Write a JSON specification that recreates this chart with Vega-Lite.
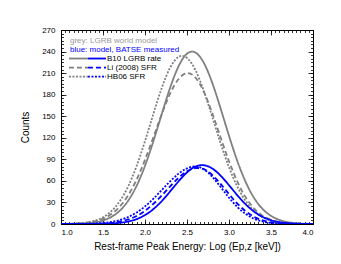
{
"$schema": "https://vega.github.io/schema/vega-lite/v6.json",
"width": 252, "height": 194,
"autosize": "none",
"padding": {"left": 61, "top": 30, "right": 28, "bottom": 40},
"config": {
 "view": {"stroke": "black", "strokeWidth": 1},
 "font": "Liberation Sans",
 "axis": {"domain": false, "grid": false, "labelFont": "Liberation Sans", "labelFontSize": 8, "labelColor": "black", "tickColor": "black", "tickWidth": 0.8, "titleFont": "Liberation Sans", "titleFontWeight": "normal", "titleFontSize": 10, "titleColor": "black"}
},
"datasets": {
 "curves": [
{"logE":1.0,"counts":0.05,"model":"B10","sample":"world"},{"logE":1.1,"counts":0.15,"model":"B10","sample":"world"},{"logE":1.2,"counts":0.4,"model":"B10","sample":"world"},{"logE":1.3,"counts":0.98,"model":"B10","sample":"world"},{"logE":1.4,"counts":2.28,"model":"B10","sample":"world"},{"logE":1.5,"counts":4.9,"model":"B10","sample":"world"},{"logE":1.6,"counts":9.9,"model":"B10","sample":"world"},{"logE":1.7,"counts":18.5,"model":"B10","sample":"world"},{"logE":1.8,"counts":32.5,"model":"B10","sample":"world"},{"logE":1.9,"counts":53.1,"model":"B10","sample":"world"},{"logE":2.0,"counts":81.0,"model":"B10","sample":"world"},{"logE":2.1,"counts":115.3,"model":"B10","sample":"world"},{"logE":2.2,"counts":153.2,"model":"B10","sample":"world"},{"logE":2.3,"counts":189.9,"model":"B10","sample":"world"},{"logE":2.4,"counts":219.6,"model":"B10","sample":"world"},{"logE":2.5,"counts":237.0,"model":"B10","sample":"world"},{"logE":2.6,"counts":238.7,"model":"B10","sample":"world"},{"logE":2.7,"counts":224.3,"model":"B10","sample":"world"},{"logE":2.8,"counts":196.6,"model":"B10","sample":"world"},{"logE":2.9,"counts":160.8,"model":"B10","sample":"world"},{"logE":3.0,"counts":122.8,"model":"B10","sample":"world"},{"logE":3.1,"counts":87.4,"model":"B10","sample":"world"},{"logE":3.2,"counts":58.1,"model":"B10","sample":"world"},{"logE":3.3,"counts":36.0,"model":"B10","sample":"world"},{"logE":3.4,"counts":20.9,"model":"B10","sample":"world"},{"logE":3.5,"counts":11.3,"model":"B10","sample":"world"},{"logE":3.6,"counts":5.7,"model":"B10","sample":"world"},{"logE":3.7,"counts":2.67,"model":"B10","sample":"world"},{"logE":3.8,"counts":1.17,"model":"B10","sample":"world"},{"logE":3.9,"counts":0.48,"model":"B10","sample":"world"},{"logE":4.0,"counts":0.18,"model":"B10","sample":"world"},
{"logE":1.0,"counts":0.12,"model":"Li","sample":"world"},{"logE":1.1,"counts":0.3,"model":"Li","sample":"world"},{"logE":1.2,"counts":0.75,"model":"Li","sample":"world"},{"logE":1.3,"counts":1.7,"model":"Li","sample":"world"},{"logE":1.4,"counts":3.7,"model":"Li","sample":"world"},{"logE":1.5,"counts":7.4,"model":"Li","sample":"world"},{"logE":1.6,"counts":13.8,"model":"Li","sample":"world"},{"logE":1.7,"counts":24.3,"model":"Li","sample":"world"},{"logE":1.8,"counts":40.1,"model":"Li","sample":"world"},{"logE":1.9,"counts":61.8,"model":"Li","sample":"world"},{"logE":2.0,"counts":89.3,"model":"Li","sample":"world"},{"logE":2.1,"counts":120.9,"model":"Li","sample":"world"},{"logE":2.2,"counts":153.1,"model":"Li","sample":"world"},{"logE":2.3,"counts":181.7,"model":"Li","sample":"world"},{"logE":2.4,"counts":201.8,"model":"Li","sample":"world"},{"logE":2.5,"counts":209.9,"model":"Li","sample":"world"},{"logE":2.6,"counts":203.9,"model":"Li","sample":"world"},{"logE":2.7,"counts":184.1,"model":"Li","sample":"world"},{"logE":2.8,"counts":154.5,"model":"Li","sample":"world"},{"logE":2.9,"counts":120.5,"model":"Li","sample":"world"},{"logE":3.0,"counts":87.4,"model":"Li","sample":"world"},{"logE":3.1,"counts":58.9,"model":"Li","sample":"world"},{"logE":3.2,"counts":36.9,"model":"Li","sample":"world"},{"logE":3.3,"counts":21.5,"model":"Li","sample":"world"},{"logE":3.4,"counts":11.6,"model":"Li","sample":"world"},{"logE":3.5,"counts":5.9,"model":"Li","sample":"world"},{"logE":3.6,"counts":2.7,"model":"Li","sample":"world"},{"logE":3.7,"counts":1.19,"model":"Li","sample":"world"},{"logE":3.8,"counts":0.48,"model":"Li","sample":"world"},{"logE":3.9,"counts":0.18,"model":"Li","sample":"world"},{"logE":4.0,"counts":0.06,"model":"Li","sample":"world"},
{"logE":1.0,"counts":0.12,"model":"HB06","sample":"world"},{"logE":1.1,"counts":0.33,"model":"HB06","sample":"world"},{"logE":1.2,"counts":0.85,"model":"HB06","sample":"world"},{"logE":1.3,"counts":2.0,"model":"HB06","sample":"world"},{"logE":1.4,"counts":4.5,"model":"HB06","sample":"world"},{"logE":1.5,"counts":9.3,"model":"HB06","sample":"world"},{"logE":1.6,"counts":17.8,"model":"HB06","sample":"world"},{"logE":1.7,"counts":31.7,"model":"HB06","sample":"world"},{"logE":1.8,"counts":52.4,"model":"HB06","sample":"world"},{"logE":1.9,"counts":80.7,"model":"HB06","sample":"world"},{"logE":2.0,"counts":115.4,"model":"HB06","sample":"world"},{"logE":2.1,"counts":153.4,"model":"HB06","sample":"world"},{"logE":2.2,"counts":189.6,"model":"HB06","sample":"world"},{"logE":2.3,"counts":217.8,"model":"HB06","sample":"world"},{"logE":2.4,"counts":232.6,"model":"HB06","sample":"world"},{"logE":2.5,"counts":231.1,"model":"HB06","sample":"world"},{"logE":2.6,"counts":214.2,"model":"HB06","sample":"world"},{"logE":2.7,"counts":185.2,"model":"HB06","sample":"world"},{"logE":2.8,"counts":149.4,"model":"HB06","sample":"world"},{"logE":2.9,"counts":112.5,"model":"HB06","sample":"world"},{"logE":3.0,"counts":79.0,"model":"HB06","sample":"world"},{"logE":3.1,"counts":51.8,"model":"HB06","sample":"world"},{"logE":3.2,"counts":31.7,"model":"HB06","sample":"world"},{"logE":3.3,"counts":18.1,"model":"HB06","sample":"world"},{"logE":3.4,"counts":9.6,"model":"HB06","sample":"world"},{"logE":3.5,"counts":4.8,"model":"HB06","sample":"world"},{"logE":3.6,"counts":2.2,"model":"HB06","sample":"world"},{"logE":3.7,"counts":0.96,"model":"HB06","sample":"world"},{"logE":3.8,"counts":0.39,"model":"HB06","sample":"world"},{"logE":3.9,"counts":0.15,"model":"HB06","sample":"world"},{"logE":4.0,"counts":0.05,"model":"HB06","sample":"world"},
{"logE":1.0,"counts":0.0,"model":"B10","sample":"BATSE"},{"logE":1.1,"counts":0.0,"model":"B10","sample":"BATSE"},{"logE":1.2,"counts":0.01,"model":"B10","sample":"BATSE"},{"logE":1.3,"counts":0.03,"model":"B10","sample":"BATSE"},{"logE":1.4,"counts":0.1,"model":"B10","sample":"BATSE"},{"logE":1.5,"counts":0.28,"model":"B10","sample":"BATSE"},{"logE":1.6,"counts":0.7,"model":"B10","sample":"BATSE"},{"logE":1.7,"counts":1.63,"model":"B10","sample":"BATSE"},{"logE":1.8,"counts":3.48,"model":"B10","sample":"BATSE"},{"logE":1.9,"counts":6.8,"model":"B10","sample":"BATSE"},{"logE":2.0,"counts":12.4,"model":"B10","sample":"BATSE"},{"logE":2.1,"counts":20.8,"model":"B10","sample":"BATSE"},{"logE":2.2,"counts":32.0,"model":"B10","sample":"BATSE"},{"logE":2.3,"counts":45.5,"model":"B10","sample":"BATSE"},{"logE":2.4,"counts":59.5,"model":"B10","sample":"BATSE"},{"logE":2.5,"counts":71.8,"model":"B10","sample":"BATSE"},{"logE":2.6,"counts":79.9,"model":"B10","sample":"BATSE"},{"logE":2.7,"counts":81.8,"model":"B10","sample":"BATSE"},{"logE":2.8,"counts":77.3,"model":"B10","sample":"BATSE"},{"logE":2.9,"counts":67.3,"model":"B10","sample":"BATSE"},{"logE":3.0,"counts":54.0,"model":"B10","sample":"BATSE"},{"logE":3.1,"counts":39.9,"model":"B10","sample":"BATSE"},{"logE":3.2,"counts":27.2,"model":"B10","sample":"BATSE"},{"logE":3.3,"counts":17.1,"model":"B10","sample":"BATSE"},{"logE":3.4,"counts":9.9,"model":"B10","sample":"BATSE"},{"logE":3.5,"counts":5.3,"model":"B10","sample":"BATSE"},{"logE":3.6,"counts":2.6,"model":"B10","sample":"BATSE"},{"logE":3.7,"counts":1.17,"model":"B10","sample":"BATSE"},{"logE":3.8,"counts":0.49,"model":"B10","sample":"BATSE"},{"logE":3.9,"counts":0.19,"model":"B10","sample":"BATSE"},{"logE":4.0,"counts":0.07,"model":"B10","sample":"BATSE"},
{"logE":1.0,"counts":0.0,"model":"Li","sample":"BATSE"},{"logE":1.1,"counts":0.02,"model":"Li","sample":"BATSE"},{"logE":1.2,"counts":0.04,"model":"Li","sample":"BATSE"},{"logE":1.3,"counts":0.12,"model":"Li","sample":"BATSE"},{"logE":1.4,"counts":0.31,"model":"Li","sample":"BATSE"},{"logE":1.5,"counts":0.74,"model":"Li","sample":"BATSE"},{"logE":1.6,"counts":1.62,"model":"Li","sample":"BATSE"},{"logE":1.7,"counts":3.3,"model":"Li","sample":"BATSE"},{"logE":1.8,"counts":6.3,"model":"Li","sample":"BATSE"},{"logE":1.9,"counts":11.1,"model":"Li","sample":"BATSE"},{"logE":2.0,"counts":18.3,"model":"Li","sample":"BATSE"},{"logE":2.1,"counts":28.0,"model":"Li","sample":"BATSE"},{"logE":2.2,"counts":39.7,"model":"Li","sample":"BATSE"},{"logE":2.3,"counts":52.4,"model":"Li","sample":"BATSE"},{"logE":2.4,"counts":64.3,"model":"Li","sample":"BATSE"},{"logE":2.5,"counts":73.3,"model":"Li","sample":"BATSE"},{"logE":2.6,"counts":77.7,"model":"Li","sample":"BATSE"},{"logE":2.7,"counts":76.3,"model":"Li","sample":"BATSE"},{"logE":2.8,"counts":68.3,"model":"Li","sample":"BATSE"},{"logE":2.9,"counts":55.8,"model":"Li","sample":"BATSE"},{"logE":3.0,"counts":41.6,"model":"Li","sample":"BATSE"},{"logE":3.1,"counts":28.3,"model":"Li","sample":"BATSE"},{"logE":3.2,"counts":17.6,"model":"Li","sample":"BATSE"},{"logE":3.3,"counts":9.9,"model":"Li","sample":"BATSE"},{"logE":3.4,"counts":5.1,"model":"Li","sample":"BATSE"},{"logE":3.5,"counts":2.4,"model":"Li","sample":"BATSE"},{"logE":3.6,"counts":1.04,"model":"Li","sample":"BATSE"},{"logE":3.7,"counts":0.41,"model":"Li","sample":"BATSE"},{"logE":3.8,"counts":0.15,"model":"Li","sample":"BATSE"},{"logE":3.9,"counts":0.05,"model":"Li","sample":"BATSE"},{"logE":4.0,"counts":0.01,"model":"Li","sample":"BATSE"},
{"logE":1.0,"counts":0.02,"model":"HB06","sample":"BATSE"},{"logE":1.1,"counts":0.05,"model":"HB06","sample":"BATSE"},{"logE":1.2,"counts":0.13,"model":"HB06","sample":"BATSE"},{"logE":1.3,"counts":0.31,"model":"HB06","sample":"BATSE"},{"logE":1.4,"counts":0.7,"model":"HB06","sample":"BATSE"},{"logE":1.5,"counts":1.5,"model":"HB06","sample":"BATSE"},{"logE":1.6,"counts":2.99,"model":"HB06","sample":"BATSE"},{"logE":1.7,"counts":5.6,"model":"HB06","sample":"BATSE"},{"logE":1.8,"counts":9.8,"model":"HB06","sample":"BATSE"},{"logE":1.9,"counts":16.0,"model":"HB06","sample":"BATSE"},{"logE":2.0,"counts":24.5,"model":"HB06","sample":"BATSE"},{"logE":2.1,"counts":35.2,"model":"HB06","sample":"BATSE"},{"logE":2.2,"counts":47.3,"model":"HB06","sample":"BATSE"},{"logE":2.3,"counts":59.5,"model":"HB06","sample":"BATSE"},{"logE":2.4,"counts":70.1,"model":"HB06","sample":"BATSE"},{"logE":2.5,"counts":77.4,"model":"HB06","sample":"BATSE"},{"logE":2.6,"counts":80.0,"model":"HB06","sample":"BATSE"},{"logE":2.7,"counts":76.2,"model":"HB06","sample":"BATSE"},{"logE":2.8,"counts":65.8,"model":"HB06","sample":"BATSE"},{"logE":2.9,"counts":51.6,"model":"HB06","sample":"BATSE"},{"logE":3.0,"counts":36.6,"model":"HB06","sample":"BATSE"},{"logE":3.1,"counts":23.6,"model":"HB06","sample":"BATSE"},{"logE":3.2,"counts":13.8,"model":"HB06","sample":"BATSE"},{"logE":3.3,"counts":7.3,"model":"HB06","sample":"BATSE"},{"logE":3.4,"counts":3.5,"model":"HB06","sample":"BATSE"},{"logE":3.5,"counts":1.53,"model":"HB06","sample":"BATSE"},{"logE":3.6,"counts":0.61,"model":"HB06","sample":"BATSE"},{"logE":3.7,"counts":0.22,"model":"HB06","sample":"BATSE"},{"logE":3.8,"counts":0.07,"model":"HB06","sample":"BATSE"},{"logE":3.9,"counts":0.02,"model":"HB06","sample":"BATSE"},{"logE":4.0,"counts":0.01,"model":"HB06","sample":"BATSE"}
 ]
},
"layer": [
 {
  "data": {"name": "curves"},
  "mark": {"type": "line", "interpolate": "natural", "strokeWidth": 1.8, "clip": true},
  "encoding": {
   "x": {"field": "logE", "type": "quantitative", "scale": {"domain": [1, 4], "nice": false, "zero": false},
         "axis": {"orient": "bottom", "values": [1, 1.5, 2, 2.5, 3, 3.5, 4], "format": ".1f", "tickSize": -5, "labelPadding": 9, "title": "Rest-frame Peak Energy: Log (Ep,z [keV])", "titlePadding": 5}},
   "y": {"field": "counts", "type": "quantitative", "scale": {"domain": [0, 270], "nice": false, "zero": false},
         "axis": {"orient": "left", "values": [0, 30, 60, 90, 120, 150, 180, 210, 240, 270], "tickSize": -5, "labelPadding": 11, "title": "Counts", "titlePadding": 11}},
   "color": {"field": "sample", "type": "nominal", "scale": {"domain": ["world", "BATSE"], "range": ["#808080", "#0000ff"]}, "legend": null},
   "strokeDash": {"field": "model", "type": "nominal", "scale": {"domain": ["B10", "Li", "HB06"], "range": [[1, 0], [5, 3], [2, 1.5]]}, "legend": null},
   "detail": {"field": "model"}
  }
 },
 {
  "data": {"name": "curves"},
  "mark": {"type": "point", "opacity": 0},
  "encoding": {
   "x": {"field": "logE", "type": "quantitative", "scale": {"domain": [1, 4], "nice": false, "zero": false},
         "axis": {"orient": "bottom", "values": [1,1.05,1.1,1.15,1.2,1.25,1.3,1.35,1.4,1.45,1.5,1.55,1.6,1.65,1.7,1.75,1.8,1.85,1.9,1.95,2,2.05,2.1,2.15,2.2,2.25,2.3,2.35,2.4,2.45,2.5,2.55,2.6,2.65,2.7,2.75,2.8,2.85,2.9,2.95,3,3.05,3.1,3.15,3.2,3.25,3.3,3.35,3.4,3.45,3.5,3.55,3.6,3.65,3.7,3.75,3.8,3.85,3.9,3.95,4], "labels": false, "tickSize": -2.5, "title": null}},
   "y": {"field": "counts", "type": "quantitative", "scale": {"domain": [0, 270], "nice": false, "zero": false},
         "axis": {"orient": "left", "values": [0,5,10,15,20,25,30,35,40,45,50,55,60,65,70,75,80,85,90,95,100,105,110,115,120,125,130,135,140,145,150,155,160,165,170,175,180,185,190,195,200,205,210,215,220,225,230,235,240,245,250,255,260,265,270], "labels": false, "tickSize": -2.5, "title": null}}
  }
 },
 {
  "data": {"name": "curves"},
  "mark": {"type": "point", "opacity": 0},
  "encoding": {
   "x": {"field": "logE", "type": "quantitative", "scale": {"domain": [1, 4], "nice": false, "zero": false},
         "axis": {"orient": "top", "values": [1, 1.5, 2, 2.5, 3, 3.5, 4], "labels": false, "tickSize": -5, "title": null}},
   "y": {"field": "counts", "type": "quantitative", "scale": {"domain": [0, 270], "nice": false, "zero": false},
         "axis": {"orient": "right", "values": [0, 30, 60, 90, 120, 150, 180, 210, 240, 270], "labels": false, "tickSize": -5, "title": null}}
  }
 },
 {
  "data": {"name": "curves"},
  "mark": {"type": "point", "opacity": 0},
  "encoding": {
   "x": {"field": "logE", "type": "quantitative", "scale": {"domain": [1, 4], "nice": false, "zero": false},
         "axis": {"orient": "top", "values": [1,1.05,1.1,1.15,1.2,1.25,1.3,1.35,1.4,1.45,1.5,1.55,1.6,1.65,1.7,1.75,1.8,1.85,1.9,1.95,2,2.05,2.1,2.15,2.2,2.25,2.3,2.35,2.4,2.45,2.5,2.55,2.6,2.65,2.7,2.75,2.8,2.85,2.9,2.95,3,3.05,3.1,3.15,3.2,3.25,3.3,3.35,3.4,3.45,3.5,3.55,3.6,3.65,3.7,3.75,3.8,3.85,3.9,3.95,4], "labels": false, "tickSize": -2.5, "title": null}},
   "y": {"field": "counts", "type": "quantitative", "scale": {"domain": [0, 270], "nice": false, "zero": false},
         "axis": {"orient": "right", "values": [0,5,10,15,20,25,30,35,40,45,50,55,60,65,70,75,80,85,90,95,100,105,110,115,120,125,130,135,140,145,150,155,160,165,170,175,180,185,190,195,200,205,210,215,220,225,230,235,240,245,250,255,260,265,270], "labels": false, "tickSize": -2.5, "title": null}}
  }
 },
 {
  "data": {"values": [{"label": "grey: LGRB world model"}]},
  "mark": {"type": "text", "align": "left", "baseline": "middle", "fontSize": 8, "color": "#999999"},
  "encoding": {"text": {"field": "label"}, "x": {"datum": 1.107, "type": "quantitative", "axis": null}, "y": {"datum": 254.7, "type": "quantitative", "axis": null}}
 },
 {
  "data": {"values": [{"label": "blue: model, BATSE measured"}]},
  "mark": {"type": "text", "align": "left", "baseline": "middle", "fontSize": 8, "color": "#0000ff"},
  "encoding": {"text": {"field": "label"}, "x": {"datum": 1.107, "type": "quantitative", "axis": null}, "y": {"datum": 242.8, "type": "quantitative", "axis": null}}
 },
 {
  "data": {"values": [{"label": "B10 LGRB rate"}]},
  "mark": {"type": "text", "align": "left", "baseline": "middle", "fontSize": 8, "color": "black"},
  "encoding": {"text": {"field": "label"}, "x": {"datum": 1.548, "type": "quantitative", "axis": null}, "y": {"datum": 230.3, "type": "quantitative", "axis": null}}
 },
 {
  "data": {"values": [{"label": "Li (2008) SFR"}]},
  "mark": {"type": "text", "align": "left", "baseline": "middle", "fontSize": 8, "color": "black"},
  "encoding": {"text": {"field": "label"}, "x": {"datum": 1.548, "type": "quantitative", "axis": null}, "y": {"datum": 217.7, "type": "quantitative", "axis": null}}
 },
 {
  "data": {"values": [{"label": "HB06 SFR"}]},
  "mark": {"type": "text", "align": "left", "baseline": "middle", "fontSize": 8, "color": "black"},
  "encoding": {"text": {"field": "label"}, "x": {"datum": 1.548, "type": "quantitative", "axis": null}, "y": {"datum": 205.2, "type": "quantitative", "axis": null}}
 },
 {
  "data": {"values": [{"swatch": "B10 world"}]},
  "mark": {"type": "rule", "color": "#808080", "strokeWidth": 1.8},
  "encoding": {"x": {"datum": 1.095, "type": "quantitative", "axis": null}, "x2": {"datum": 1.321}, "y": {"datum": 230.3, "type": "quantitative", "axis": null}}
 },
 {
  "data": {"values": [{"swatch": "B10 BATSE"}]},
  "mark": {"type": "rule", "color": "#0000ff", "strokeWidth": 1.8},
  "encoding": {"x": {"datum": 1.321, "type": "quantitative", "axis": null}, "x2": {"datum": 1.536}, "y": {"datum": 230.3, "type": "quantitative", "axis": null}}
 },
 {
  "data": {"values": [{"swatch": "Li world"}]},
  "mark": {"type": "rule", "color": "#808080", "strokeWidth": 1.8, "strokeDash": [5, 3]},
  "encoding": {"x": {"datum": 1.095, "type": "quantitative", "axis": null}, "x2": {"datum": 1.321}, "y": {"datum": 217.7, "type": "quantitative", "axis": null}}
 },
 {
  "data": {"values": [{"swatch": "Li BATSE"}]},
  "mark": {"type": "rule", "color": "#0000ff", "strokeWidth": 1.8, "strokeDash": [5, 3]},
  "encoding": {"x": {"datum": 1.321, "type": "quantitative", "axis": null}, "x2": {"datum": 1.536}, "y": {"datum": 217.7, "type": "quantitative", "axis": null}}
 },
 {
  "data": {"values": [{"swatch": "HB06 world"}]},
  "mark": {"type": "rule", "color": "#808080", "strokeWidth": 1.8, "strokeDash": [2, 1.5]},
  "encoding": {"x": {"datum": 1.095, "type": "quantitative", "axis": null}, "x2": {"datum": 1.321}, "y": {"datum": 205.2, "type": "quantitative", "axis": null}}
 },
 {
  "data": {"values": [{"swatch": "HB06 BATSE"}]},
  "mark": {"type": "rule", "color": "#0000ff", "strokeWidth": 1.8, "strokeDash": [2, 1.5]},
  "encoding": {"x": {"datum": 1.321, "type": "quantitative", "axis": null}, "x2": {"datum": 1.536}, "y": {"datum": 205.2, "type": "quantitative", "axis": null}}
 }
],
"resolve": {"axis": {"x": "independent", "y": "independent"}}
}
